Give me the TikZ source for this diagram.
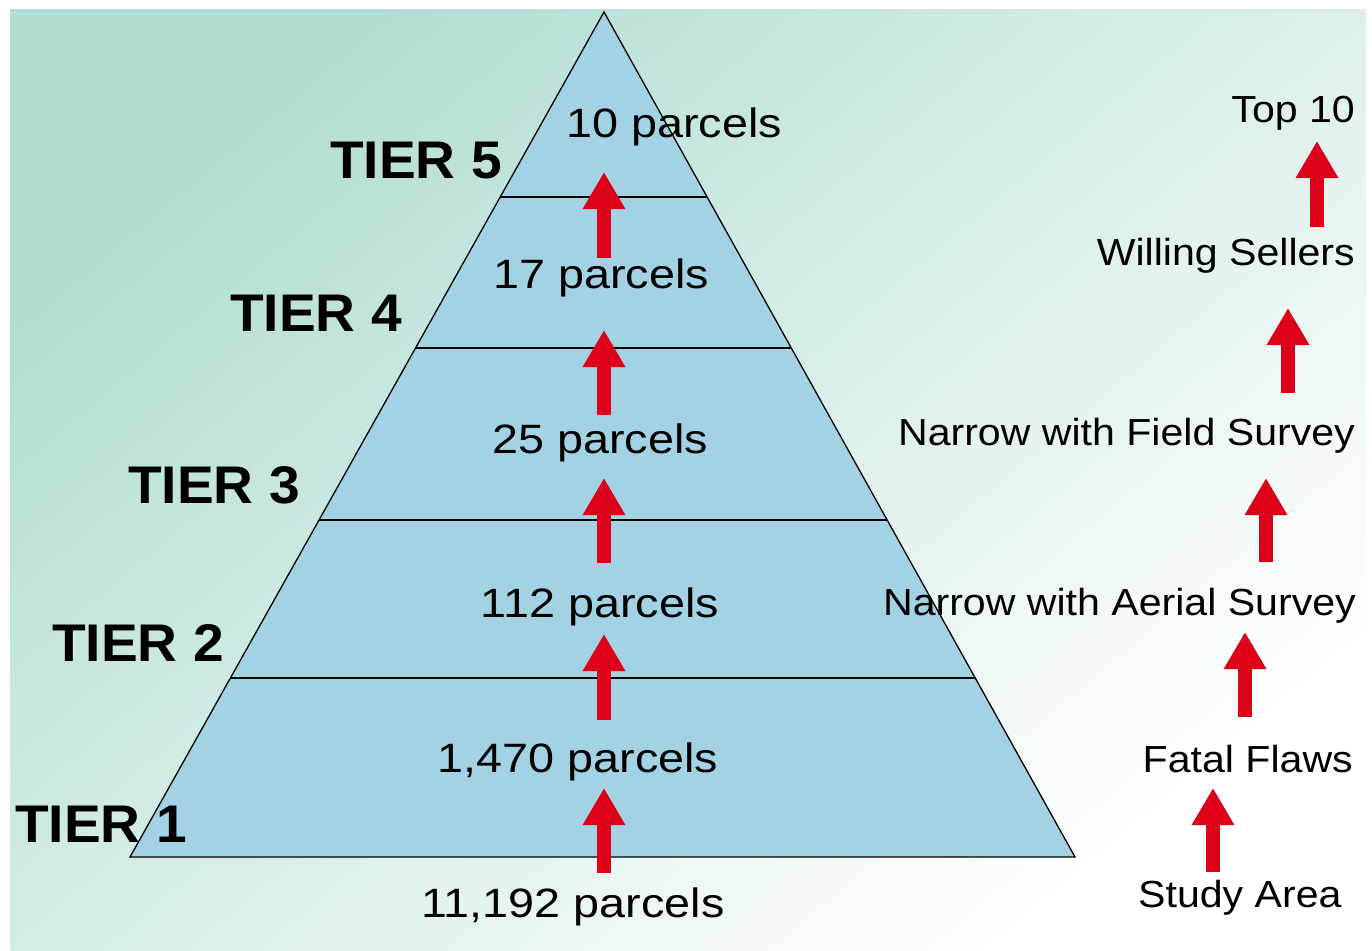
\documentclass[tikz,border=0pt]{standalone}
\usepackage{fontspec}
\setmainfont{Liberation Sans}
\newfontfamily\sidefont[FakeStretch=1.09]{Liberation Sans}
\newfontfamily\pyrfont[FakeStretch=1.14]{Liberation Sans}
\newfontfamily\tierfont[FakeStretch=1.04]{Liberation Sans}
\usetikzlibrary{arrows.meta,calc}
\definecolor{bgA}{HTML}{B2DDD3}
\definecolor{bgM}{HTML}{D6EDE6}
\definecolor{bgB}{HTML}{FFFFFF}
\definecolor{pyr}{HTML}{A2D2E3}
\definecolor{arr}{HTML}{DC0018}
\tikzset{
  uparrow/.style={draw=arr, line width=14pt, -{Triangle[width=40pt,length=37pt]}},
  pyrtext/.style={font=\pyrfont\fontsize{41}{48}\selectfont, inner sep=0pt, anchor=base},
  sidetext/.style={font=\sidefont\fontsize{37.7}{44}\selectfont, inner sep=0pt, anchor=base east},
  tiertext/.style={font=\tierfont\bfseries\fontsize{53}{60}\selectfont, inner sep=0pt, anchor=base west},
  tierline/.style={draw=black, line width=1.2pt},
  pyrshape/.style={fill=pyr, draw=black, line width=1.3pt, line join=miter},
}
\begin{document}
\begin{tikzpicture}[x=1pt,y=-1pt]
\useasboundingbox (0,0) rectangle (1372,950);
\fill[white] (0,0) rectangle (1372,950);
\shade[shading=axis, top color=bgA, middle color=bgM, bottom color=bgB, shading angle=40] (10,10) rectangle (1366,950);

% pyramid
\coordinate (apex) at (604,12);
\coordinate (bl) at (130,857);
\coordinate (br) at (1075,857);
\path[pyrshape] (apex) -- (br) -- (bl) -- cycle;
\foreach \t in {185,336,508,666}{
  \draw[tierline] ($(apex)!{\t/845}!(bl)$) -- ($(apex)!{\t/845}!(br)$);
}

% pyramid arrows
\coordinate (p1s) at (604,873); \coordinate (p1e) at (604,788);
\coordinate (p2s) at (604,720); \coordinate (p2e) at (604,634);
\coordinate (p3s) at (604,563); \coordinate (p3e) at (604,478);
\coordinate (p4s) at (604,415); \coordinate (p4e) at (604,330);
\coordinate (p5s) at (604,258); \coordinate (p5e) at (604,172);
\foreach \i in {1,...,5}{ \draw[uparrow] (p\i s) -- (p\i e); }

% side arrows
\coordinate (s1s) at (1213,872); \coordinate (s1e) at (1213,788);
\coordinate (s2s) at (1245,717); \coordinate (s2e) at (1245,632);
\coordinate (s3s) at (1266,562); \coordinate (s3e) at (1266,478);
\coordinate (s4s) at (1288,393); \coordinate (s4e) at (1288,308);
\coordinate (s5s) at (1317,227); \coordinate (s5e) at (1317,141);
\foreach \i in {1,...,5}{ \draw[uparrow] (s\i s) -- (s\i e); }

% pyramid texts
\node[pyrtext] (n10) at (674,137) {10 parcels};
\node[pyrtext] (n17) at (601,288) {17 parcels};
\node[pyrtext] (n25) at (600,453) {25 parcels};
\node[pyrtext] (n112) at (600,617) {112 parcels};
\node[pyrtext] (n1470) at (578,772) {1,470 parcels};
\node[pyrtext] (n11192) at (573,917) {11,192 parcels};

% tier labels
\node[tiertext] (t5) at (330,178) {TIER 5};
\node[tiertext] (t4) at (230,331) {TIER 4};
\node[tiertext] (t3) at (128,503) {TIER 3};
\node[tiertext] (t2) at (52,661) {TIER 2};
\node[tiertext] (t1) at (15,842) {TIER 1};

% side texts
\node[sidetext] (top) at (1355,122) {Top 10};
\node[sidetext] (will) at (1355,265) {Willing Sellers};
\node[sidetext] (field) at (1355,445) {Narrow with Field Survey};
\node[sidetext] (aerial) at (1356,615) {Narrow with Aerial Survey};
\node[sidetext] (fatal) at (1353,772) {Fatal Flaws};
\node[sidetext, anchor=base west] (study) at (1138,907) {Study Area};
\end{tikzpicture}
\end{document}
